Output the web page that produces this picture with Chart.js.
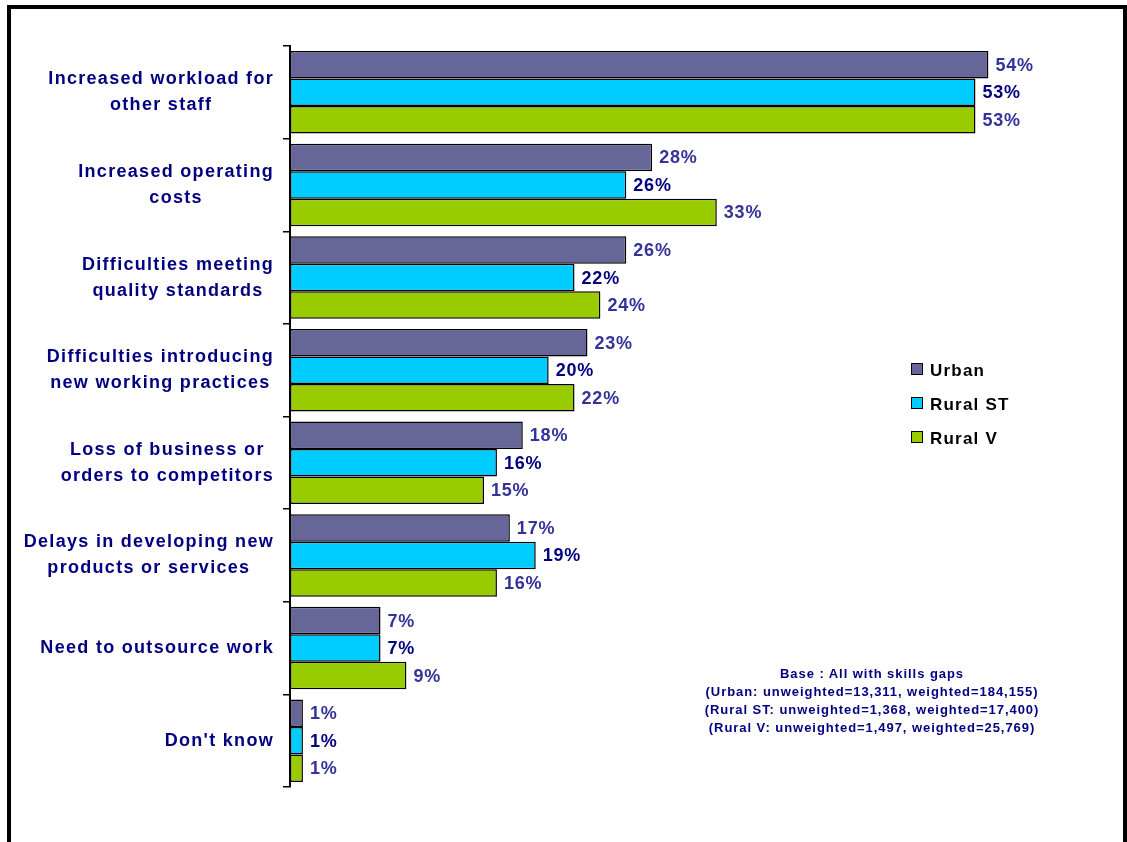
<!DOCTYPE html>
<html>
<head>
<meta charset="utf-8">
<script src="https://cdn.jsdelivr.net/npm/chart.js@4.4.0/dist/chart.umd.min.js"></script>
<style>
  body { margin: 0; background: #fff; overflow: hidden; font-family: "Liberation Sans", Arial, sans-serif; }
  #wrap { position: relative; width: 1127px; height: 842px; }
  #frame { position: absolute; left: 7px; top: 5px; width: 1120px; height: 900px; border: 4px solid #000; box-sizing: border-box; }
  #legend { position: absolute; left: 911px; top: 359px; font-weight: bold; font-size: 17px; letter-spacing: 1.2px; color: #000; }
  #legend div { height: 34px; line-height: 23px; white-space: nowrap; }
  #legend span.box { display: inline-block; width: 10px; height: 10px; border: 1.5px solid #000; margin-right: 7px; vertical-align: 1px; }
  #base { position: absolute; left: 622px; top: 665px; width: 500px; text-align: center; font-weight: bold; font-size: 13px; letter-spacing: 0.95px; line-height: 18px; color: #000080; }
</style>
</head>
<body>
<div id="wrap">
  <canvas id="gapChart" width="1127" height="842"></canvas>
  <div id="frame"></div>
  <div id="legend"></div>
  <div id="base"></div>
</div>
<script>
"use strict";

var categories = [
  ["Increased workload for", "other staff"],
  ["Increased operating", "costs"],
  ["Difficulties meeting", "quality standards"],
  ["Difficulties introducing", "new working practices"],
  ["Loss of business or", "orders to competitors"],
  ["Delays in developing new", "products or services"],
  ["Need to outsource work"],
  ["Don't know"]
];
var seriesNames = ["Urban", "Rural ST", "Rural V"];
var urban = [54, 28, 26, 23, 18, 17, 7, 1];
var ruralST = [53, 26, 22, 20, 16, 19, 7, 1];
var ruralV = [53, 33, 24, 22, 15, 16, 9, 1];
var baseNotes = [
  "Base : All with skills gaps",
  "(Urban: unweighted=13,311, weighted=184,155)",
  "(Rural ST: unweighted=1,368, weighted=17,400)",
  "(Rural V: unweighted=1,497, weighted=25,769)"
];

var BAR_COLORS = ["#666699", "#00CCFF", "#99CC00"];
var LABEL_COLORS = ["#333399", "#000080", "#333399"];
var FONT = '"Liberation Sans", Arial, sans-serif';

// legend + base note as html text
var legendEl = document.getElementById("legend");
seriesNames.forEach(function (name, i) {
  var row = document.createElement("div");
  var box = document.createElement("span");
  box.className = "box";
  box.style.background = BAR_COLORS[i];
  row.appendChild(box);
  row.appendChild(document.createTextNode(name));
  legendEl.appendChild(row);
});
document.getElementById("base").innerHTML = baseNotes.join("<br>");

var valueLabels = {
  id: "valueLabels",
  afterDatasetsDraw: function (chart) {
    var ctx = chart.ctx;
    ctx.save();
    ctx.font = "bold 18px " + FONT;
    ctx.letterSpacing = "0.8px";
    ctx.textBaseline = "middle";
    ctx.textAlign = "left";
    chart.data.datasets.forEach(function (ds, di) {
      ctx.fillStyle = LABEL_COLORS[di];
      chart.getDatasetMeta(di).data.forEach(function (el, i) {
        ctx.fillText(ds.data[i] + "%", el.x + 7, el.y + 1);
      });
    });
    ctx.restore();
  }
};

// category labels: block right-aligned to the axis, lines centred in the block
var categoryLabels = {
  id: "categoryLabels",
  afterDraw: function (chart) {
    var ctx = chart.ctx;
    var yScale = chart.scales.y;
    var right = 274;
    var lh = 26;
    ctx.save();
    ctx.font = "bold 18px " + FONT;
    ctx.letterSpacing = "1.3px";
    ctx.fillStyle = "#000080";
    ctx.textBaseline = "middle";
    ctx.textAlign = "center";
    categories.forEach(function (lines, i) {
      var y = yScale.getPixelForValue(i);
      var w = 0;
      lines.forEach(function (l) {
        w = Math.max(w, ctx.measureText(l).width);
      });
      var cx = right - w / 2;
      var y0 = y - ((lines.length - 1) * lh) / 2;
      lines.forEach(function (l, k) {
        ctx.fillText(l, cx, y0 + k * lh);
      });
    });
    ctx.restore();
  }
};

new Chart(document.getElementById("gapChart"), {
  type: "bar",
  data: {
    labels: categories.map(function (c) {
      return c.join(" ");
    }),
    datasets: [
      { label: seriesNames[0], data: urban, backgroundColor: BAR_COLORS[0] },
      { label: seriesNames[1], data: ruralST, backgroundColor: BAR_COLORS[1] },
      { label: seriesNames[2], data: ruralV, backgroundColor: BAR_COLORS[2] }
    ]
  },
  options: {
    indexAxis: "y",
    responsive: false,
    animation: false,
    layout: { padding: { left: 280, right: 61, top: 46, bottom: 55 } },
    datasets: {
      bar: {
        borderColor: "#000",
        borderWidth: 1.5,
        borderSkipped: false,
        categoryPercentage: 0.89,
        barPercentage: 1
      }
    },
    plugins: {
      legend: { display: false },
      tooltip: { enabled: false }
    },
    scales: {
      x: { display: false, min: 0, max: 60 },
      y: {
        afterFit: function (scale) {
          scale.width = 10;
        },
        ticks: { display: false },
        grid: {
          offset: true,
          drawOnChartArea: false,
          drawTicks: true,
          tickLength: 7,
          color: "#000",
          lineWidth: 1.5
        },
        border: { display: true, color: "#000", width: 2 }
      }
    }
  },
  plugins: [valueLabels, categoryLabels]
});
</script>
</body>
</html>
